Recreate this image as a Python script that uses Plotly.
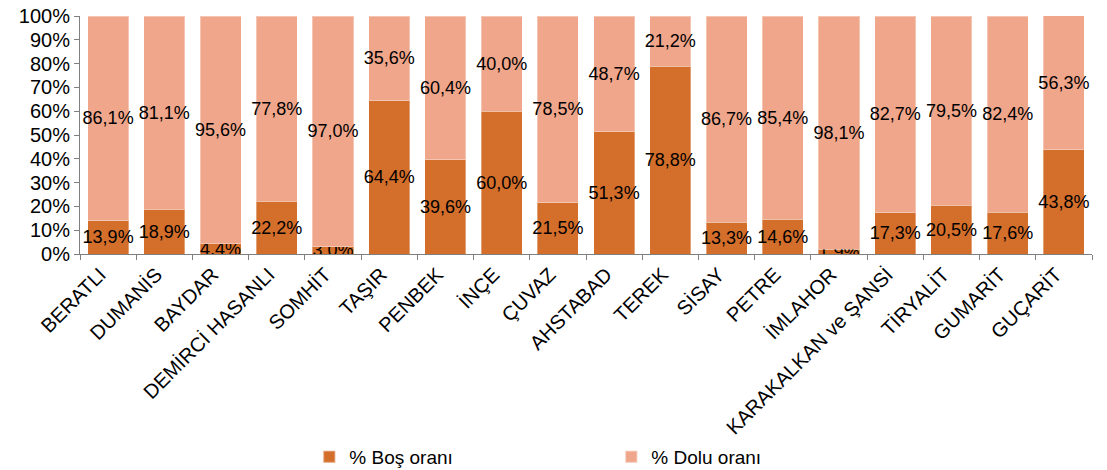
import plotly.graph_objects as go

categories = ["BERATLI", "DUMANİS", "BAYDAR", "DEMİRCİ HASANLI", "SOMHİT", "TAŞIR",
              "PENBEK", "İNÇE", "ÇUVAZ", "AHSTABAD", "TEREK", "SİSAY", "PETRE",
              "İMLAHOR", "KARAKALKAN ve ŞANSİ", "TİRYALİT", "GUMARİT", "GUÇARİT"]
bos = [13.9, 18.9, 4.4, 22.2, 3.0, 64.4, 39.6, 60.0, 21.5, 51.3, 78.8, 13.3, 14.6,
       1.9, 17.3, 20.5, 17.6, 43.8]
dolu = [86.1, 81.1, 95.6, 77.8, 97.0, 35.6, 60.4, 40.0, 78.5, 48.7, 21.2, 86.7, 85.4,
        98.1, 82.7, 79.5, 82.4, 56.3]
y_ticks = [0, 10, 20, 30, 40, 50, 60, 70, 80, 90, 100]
y_tick_labels = [f"{v}%" for v in y_ticks]


def fmt(v):
    return f"{v:.1f}%".replace(".", ",")


FONT = "Liberation Sans, Arial, sans-serif"

fig = go.Figure()
fig.add_trace(go.Bar(
    name="% Boş oranı", x=categories, y=bos,
    marker=dict(color="#D36E2B", line=dict(color="rgba(255,255,255,0.35)", width=1)),
    text=[fmt(v) for v in bos], textposition="inside", insidetextanchor="middle",
    textangle=0, textfont=dict(color="black", size=18, family=FONT),
    constraintext="none",
))
fig.add_trace(go.Bar(
    name="% Dolu oranı", x=categories, y=dolu,
    marker=dict(color="#F0A68A", line=dict(color="rgba(255,255,255,0.35)", width=1)),
    text=[fmt(v) for v in dolu], textposition="inside", insidetextanchor="middle",
    textangle=0, textfont=dict(color="black", size=18, family=FONT),
    constraintext="none",
))

fig.update_layout(
    barmode="stack",
    bargap=0.27,
    width=1107, height=470,
    margin=dict(l=80, r=15, t=16, b=216, autoexpand=False),
    plot_bgcolor="white", paper_bgcolor="white",
    font=dict(family=FONT, color="black", size=19),
    uniformtext=dict(minsize=18, mode="show"),
    legend=dict(orientation="h", x=0.525, xanchor="center", yref="container",
                y=0.028, yanchor="middle",
                font=dict(size=19), entrywidth=257, entrywidthmode="pixels",
                itemsizing="constant", traceorder="normal"),
    xaxis=dict(
        tickangle=-45, tickfont=dict(size=20), showline=True, linecolor="#7f7f7f",
        linewidth=1, ticks="outside", tickson="boundaries", ticklen=5,
        tickcolor="#7f7f7f", showgrid=False, automargin=False, ticklabelshift=-8,
    ),
    yaxis=dict(
        range=[0, 100], tickmode="array", tickvals=y_ticks, ticktext=y_tick_labels,
        tickfont=dict(size=20),
        showline=True, linecolor="#7f7f7f", linewidth=1, ticks="outside",
        ticklen=5, tickcolor="#7f7f7f", showgrid=False, zeroline=False,
        automargin=False,
    ),
)

fig.write_html("out.html",
               config={"displayModeBar": False},
               post_script="document.body.style.margin='0';document.body.style.overflow='hidden';")
